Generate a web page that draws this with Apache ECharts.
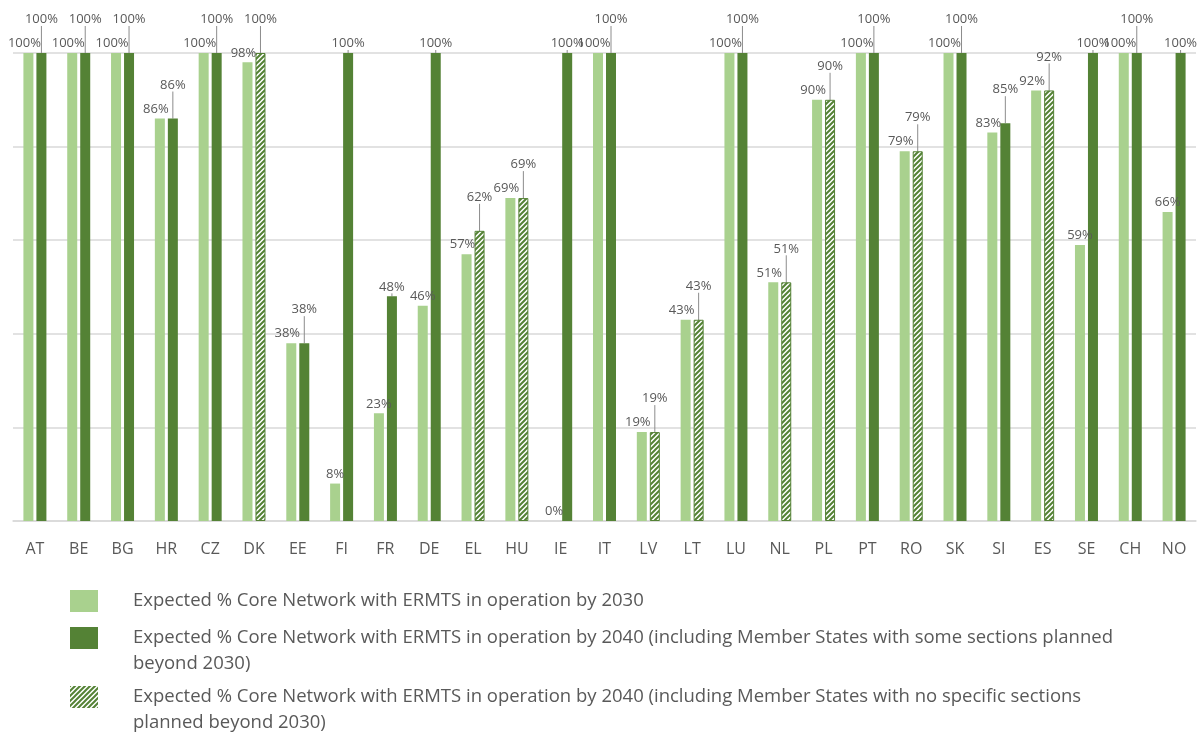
<!DOCTYPE html>
<html>
<head>
<meta charset="utf-8">
<script src="https://cdn.jsdelivr.net/npm/echarts@6/dist/echarts.min.js"></script>
<style>
  html, body { margin: 0; padding: 0; background: #fff; }
  #chart { width: 1199px; height: 735px; }
</style>
</head>
<body>
<div id="chart"></div>
<script>
const countries = ["AT", "BE", "BG", "HR", "CZ", "DK", "EE", "FI", "FR", "DE", "EL", "HU", "IE", "IT",
  "LV", "LT", "LU", "NL", "PL", "PT", "RO", "SK", "SI", "ES", "SE", "CH", "NO"];
// expected % by 2030
const by2030 = [100, 100, 100, 86, 100, 98, 38, 8, 23, 46, 57, 69, 0, 100,
  19, 43, 100, 51, 90, 100, 79, 100, 83, 92, 59, 100, 66];
// expected % by 2040, member states with some sections planned beyond 2030
const by2040Some = [100, 100, 100, 86, 100, null, 38, 100, 48, 100, null, null, 100, 100,
  null, null, 100, null, null, 100, null, 100, 85, null, 100, 100, 100];
// expected % by 2040, member states with no specific sections planned beyond 2030
const by2040None = [null, null, null, null, null, 100, null, null, null, null, 62, 69, null, null,
  19, 43, null, 51, 90, null, 79, null, null, 92, null, null, null];

const names = [
  "Expected % Core Network with ERMTS in operation by 2030",
  "Expected % Core Network with ERMTS in operation by 2040 (including Member States with some sections planned beyond 2030)",
  "Expected % Core Network with ERMTS in operation by 2040 (including Member States with no specific sections planned beyond 2030)"
];

const lightGreen = "#a9d18e";
const darkGreen = "#548235";
const textGray = "#595959";
const font = "Open Sans";

// hatch pattern for the third series
const hatch = document.createElement("canvas");
hatch.width = 5;
hatch.height = 5;
const hc = hatch.getContext("2d");
hc.fillStyle = "#ffffff";
hc.fillRect(0, 0, 5, 5);
hc.strokeStyle = darkGreen;
hc.lineWidth = 2;
hc.beginPath();
hc.moveTo(-1, 6); hc.lineTo(6, -1);
hc.moveTo(-3, 3); hc.lineTo(3, -3);
hc.moveTo(2, 8); hc.lineTo(8, 2);
hc.stroke();

// dark label goes up with a leader line when the 2030 bar is about as tall
const lifted = (i) => {
  const v = by2040Some[i] != null ? by2040Some[i] : by2040None[i];
  return by2030[i] >= v - 5;
};

const barLabel = {
  show: true,
  position: "top",
  distance: 3,
  formatter: "{c}%",
  color: textGray,
  fontFamily: font,
  fontSize: 13
};
const darkLayout = (p) => (lifted(p.dataIndex) ? { dy: -24 } : {});
const leader = { show: true, lineStyle: { color: "#8c8c8c", width: 1 }, length2: 0 };

// square icon at the top of a taller box, so that two-line legend text starts level with it
const tallIcon = "path://M0,0h28v22h-28z M0,47.9h0.1v0.1h-0.1z";
const legendText = { color: textGray, fontFamily: font, fontSize: 18.5, lineHeight: 26, padding: [0, 0, 0, 30] };

const chart = echarts.init(document.getElementById("chart"));
chart.setOption({
  animation: false,
  grid: { left: 13, right: 3, top: 53, bottom: 214 },
  legend: [
    {
      data: [names[0]], orient: "vertical", left: 70, top: 588, padding: 0,
      icon: "rect", itemWidth: 28, itemHeight: 22, selectedMode: false,
      textStyle: legendText
    },
    {
      data: [names[1]], orient: "vertical", left: 70, top: 625, padding: 0,
      icon: tallIcon, itemWidth: 28, itemHeight: 48, selectedMode: false,
      formatter: (n) => n.replace(" beyond", "\nbeyond"),
      textStyle: legendText
    },
    {
      data: [names[2]], orient: "vertical", left: 70, top: 684, padding: 0,
      icon: tallIcon, itemWidth: 28, itemHeight: 48, selectedMode: false,
      itemStyle: { borderWidth: 0 },
      formatter: (n) => n.replace(" planned", "\nplanned"),
      textStyle: legendText
    }
  ],
  xAxis: {
    type: "category",
    data: countries,
    axisTick: { show: false },
    axisLine: { lineStyle: { color: "#d9d9d9", width: 1.5 } },
    axisLabel: { color: textGray, fontFamily: font, fontSize: 16, margin: 20 }
  },
  yAxis: {
    type: "value",
    min: 0,
    max: 100,
    interval: 20,
    axisLabel: { show: false },
    axisLine: { show: false },
    axisTick: { show: false },
    splitLine: { lineStyle: { color: "#d9d9d9", width: 1.5 } }
  },
  series: [
    {
      name: names[0],
      type: "bar",
      data: by2030,
      barWidth: 10,
      barGap: "30%",
      itemStyle: { color: lightGreen },
      label: barLabel,
      labelLayout: (p) => (lifted(p.dataIndex) ? { dx: -4 } : {})
    },
    {
      name: names[1],
      type: "bar",
      stack: "y2040",
      data: by2040Some,
      barWidth: 10,
      itemStyle: { color: darkGreen },
      label: barLabel,
      labelLayout: darkLayout,
      labelLine: leader
    },
    {
      name: names[2],
      type: "bar",
      stack: "y2040",
      data: by2040None,
      barWidth: 10,
      itemStyle: { color: { image: hatch, repeat: "repeat" }, borderColor: darkGreen, borderWidth: 1 },
      label: barLabel,
      labelLayout: darkLayout,
      labelLine: leader
    }
  ]
});
</script>
</body>
</html>
